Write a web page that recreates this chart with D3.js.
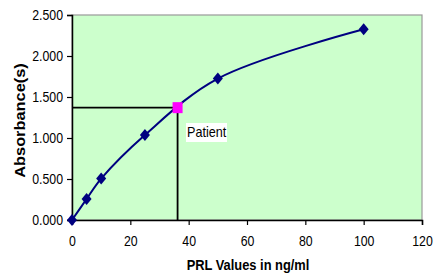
<!DOCTYPE html>
<html>
<head>
<meta charset="utf-8">
<script src="https://cdn.jsdelivr.net/npm/d3@7"></script>
<style>
  body { margin: 0; background: #fff; }
  svg { font-family: "Liberation Sans", Arial, sans-serif; }
</style>
</head>
<body>
<div class="chart"></div>
<script>
'use strict';
(function() {
  // Standard curve data
  var concs = [0, 5, 10, 25, 50, 100];
  var absorb = [0, 0.256, 0.505, 1.037, 1.725, 2.326];
  // Patient point
  var patientConc = 36.2;
  var patientAbs = 1.37;
  var xTicks = [0, 20, 40, 60, 80, 100, 120];
  var yTicks = [0, 0.5, 1.0, 1.5, 2.0, 2.5];

  var w = 433, h = 274;
  var left = 72, right = 422, top = 15, bottom = 220;
  var squeeze = 0.85; // text in the original is narrow

  var svg = d3.select(".chart").append("svg")
    .attr("width", w).attr("height", h);

  var x = d3.scaleLinear().domain([0, 120]).range([left, right]);
  var y = d3.scaleLinear().domain([0, 2.5]).range([bottom, top]);

  // Plot area
  svg.append("rect")
    .attr("x", left).attr("y", top)
    .attr("width", right - left).attr("height", bottom - top)
    .attr("fill", "#ccffcc")
    .attr("stroke", "#999999").attr("stroke-width", 1.2);

  // Axes
  var yAxis = svg.append("g")
    .attr("transform", "translate(" + left + ",0)")
    .call(d3.axisLeft(y).tickValues(yTicks).tickSizeOuter(0).tickSize(5)
      .tickFormat(d3.format(".3f")));
  var xAxis = svg.append("g")
    .attr("transform", "translate(0," + bottom + ")")
    .call(d3.axisBottom(x).tickValues(xTicks).tickSizeOuter(0).tickSize(5).tickPadding(11));
  [xAxis, yAxis].forEach(function(g) {
    g.select(".domain").attr("stroke", "#000").attr("stroke-width", 1.5);
    g.selectAll(".tick line").attr("stroke", "#000").attr("stroke-width", 1.2);
    g.selectAll("text").attr("font-family", "Liberation Sans, Arial, sans-serif")
      .attr("font-size", 14.5).attr("fill", "#000")
      .attr("transform", "scale(" + squeeze + ",1)");
  });
  yAxis.selectAll("text").attr("x", -9 / squeeze);

  // Patient guide lines
  svg.append("path")
    .attr("d", "M" + x(0) + "," + y(patientAbs) + "H" + x(patientConc) + "V" + y(0))
    .attr("fill", "none").attr("stroke", "#000").attr("stroke-width", 1.8);

  // Curve
  var pts = concs.map(function(c, i) { return [c, absorb[i]]; });
  var line = d3.line()
    .x(function(d) { return x(d[0]); })
    .y(function(d) { return y(d[1]); })
    .curve(d3.curveCatmullRom.alpha(0.5));
  svg.append("path")
    .datum(pts)
    .attr("d", line)
    .attr("fill", "none").attr("stroke", "#000080").attr("stroke-width", 2);

  // Markers (slightly tall diamonds)
  svg.append("g").selectAll("path")
    .data(pts).enter().append("path")
    .attr("d", "M0,-6L5,0L0,6L-5,0Z")
    .attr("transform", function(d) { return "translate(" + x(d[0]) + "," + y(d[1]) + ")"; })
    .attr("fill", "#000080");

  svg.append("rect")
    .attr("x", x(patientConc) - 5).attr("y", y(patientAbs) - 5.5)
    .attr("width", 10).attr("height", 11)
    .attr("fill", "#ff00ff");

  // Patient label
  svg.append("rect")
    .attr("x", 186).attr("y", 123).attr("width", 41).attr("height", 19)
    .attr("fill", "#fff");
  svg.append("text")
    .attr("transform", "translate(187,137) scale(0.9,1)")
    .attr("font-size", 14)
    .text("Patient");

  // Axis titles
  svg.append("text")
    .attr("transform", "translate(248,270) scale(0.92,1)")
    .attr("text-anchor", "middle")
    .attr("font-size", 14).attr("font-weight", "bold")
    .text("PRL Values in ng/ml");
  svg.append("text")
    .attr("transform", "translate(25,120.5) rotate(-90) scale(1.17,1)")
    .attr("text-anchor", "middle")
    .attr("font-size", 14).attr("font-weight", "bold")
    .text("Absorbance(s)");
})();
</script>
</body>
</html>
